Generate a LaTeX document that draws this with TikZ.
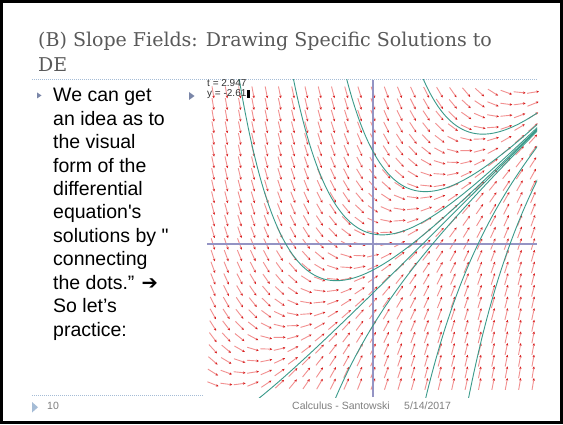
\documentclass[tikz,border=0pt]{standalone}
\usepackage{fontspec}
\setmainfont{Liberation Sans}[Ligatures=TeXOff]
\newfontfamily\titlefont{DejaVu Serif}
\newfontfamily\arrowfont{DejaVu Sans}
\usetikzlibrary{arrows.meta}

\definecolor{titlegray}{HTML}{595959}
\definecolor{footgray}{HTML}{7F7F7F}
\definecolor{bulletgray}{HTML}{7A86A8}
\definecolor{ruleblue}{HTML}{A5BCD6}
\definecolor{axisblue}{HTML}{9494C4}
\definecolor{curveteal}{HTML}{3A9A8A}
\definecolor{shaftpink}{HTML}{F29090}
\definecolor{tipred}{HTML}{D81E1E}

\tikzset{
  slopearrow/.style={draw=shaftpink, line width=0.9pt, -{Stealth[tipred, length=2.6pt, width=2.4pt]}},
  solcurve/.style={draw=curveteal, line width=0.9pt, samples=120, smooth},
  axisline/.style={draw=axisblue, line width=2pt},
  dotrule/.style={draw=ruleblue, dash pattern=on 1pt off 1pt, line width=0.8pt},
  bodyline/.style={anchor=base west, inner sep=0pt, font=\fontsize{19.5}{23.4}\selectfont},
  readout/.style={anchor=base west, inner sep=0pt, font=\fontsize{10}{10}\selectfont, text=black!80},
  footnote/.style={anchor=base west, inner sep=0pt, text=footgray, font=\fontsize{10.5}{12}\selectfont},
}

\begin{document}
\begin{tikzpicture}[x=1pt, y=1pt]
\useasboundingbox (0,0) rectangle (563,424);
\fill[white] (0,0) rectangle (563,424);
\draw[line width=3pt] (1.5,1.5) rectangle (561.5,422.5);

% title
\node[anchor=base west, inner sep=0pt, text=titlegray, font=\titlefont\fontsize{19}{22}\selectfont] (title1) at (38,377) {(B) Slope Fields: Drawing Specific Solutions to};
\node[anchor=base west, inner sep=0pt, text=titlegray, font=\titlefont\fontsize{19}{22}\selectfont] (title2) at (38,352) {DE};
\coordinate (rulel) at (32,345);
\coordinate (ruler) at (537,345);
\draw[dotrule] (rulel) -- (ruler);

% bullet text
\fill[bulletgray] (37,331.5) -- (37,325.5) -- (41.5,328.5) -- cycle;
\foreach \txt [count=\n] in {We can get, an idea as to, the visual, form of the, differential, equation's, solutions by ", connecting, the dots.” {\arrowfont\bfseries ➔}, So let’s, practice:}
  \node[bodyline] (line\n) at (53,{322-23.4*(\n-1)}) {\txt};
\fill[bulletgray] (189,332) -- (189,324) -- (194.5,328) -- cycle;

% slope field
\begin{scope}[shift={(373,180)}, x=50pt, y=50pt]
  \foreach \i in {-12,...,12}
    \foreach \j in {-12,...,13}{
      \pgfmathsetmacro\tv{\i*0.2667}
      \pgfmathsetmacro\yv{\j*0.2333}
      \pgfmathsetmacro\ang{atan(\tv-\yv)}
      \draw[slopearrow] (\tv,\yv) ++({\ang+180}:6pt) -- ++(\ang:12pt);
    }
  \coordinate (xl) at (-3.32,0);
  \coordinate (xr) at (3.28,0);
  \coordinate (yb) at (0,-3.06);
  \coordinate (yt) at (0,3.28);
  \draw[axisline] (xl) -- (xr);
  \draw[axisline] (yb) -- (yt);
  \begin{scope}
    \clip (-3.32,-3.06) rectangle (3.28,3.28);
    \foreach \c/\lo in {9/0.95, 2.85/-0.6, 1.2/-1.65, 0.48/-2.75, 0.02/-3.32, -0.63/-0.9, -9/0.98, -27/1.85}
      \draw[solcurve, domain=\lo:3.3] plot (\x, {\x-1+(\c)*exp(-(\x))});
  \end{scope}
\end{scope}

% cursor readout
\node[readout] (tread) at (207,337) {t = 2.947};
\node[readout] (yread) at (207,327) {y = -2.61};
\fill[black] (yread.base east) ++(0.5,-1) rectangle ++(3,7.5);

% footer
\coordinate (footl) at (32,29);
\coordinate (footr) at (204,29);
\draw[dotrule] (footl) -- (footr);
\fill[ruleblue] (32,22) -- (32,11.5) -- (38,16.75) -- cycle;
\node[footnote] (pagenum) at (47,14.5) {10};
\node[footnote] (course) at (292,14.5) {Calculus - Santowski};
\node[footnote] (date) at (404,14.5) {5/14/2017};
\end{tikzpicture}
\end{document}
